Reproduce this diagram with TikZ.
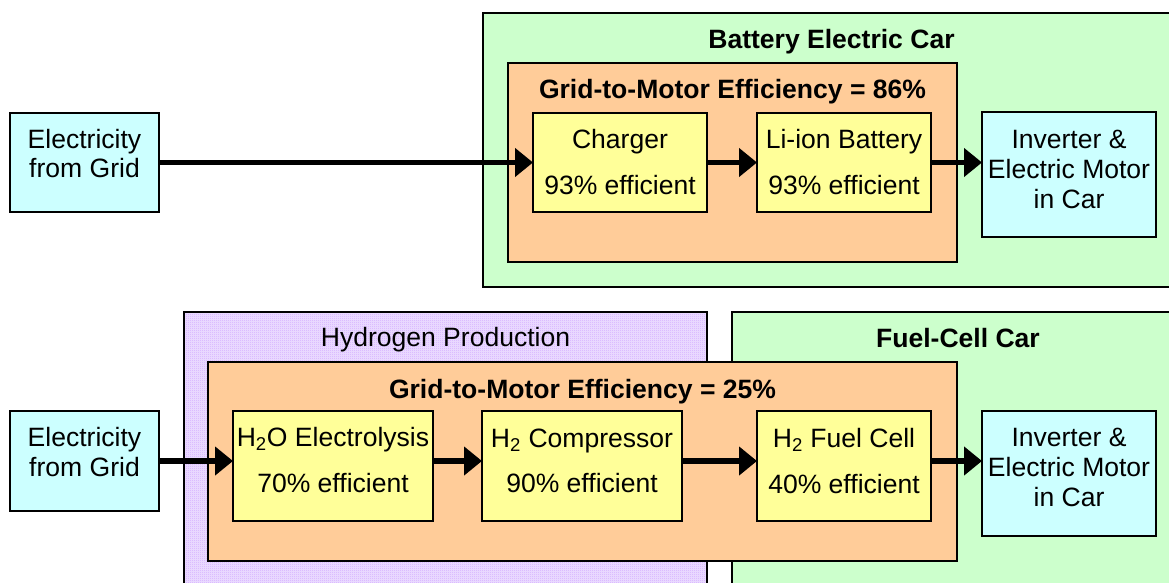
\documentclass[tikz,border=0pt]{standalone}
\usepackage{fontspec}
\setmainfont{Liberation Sans}
\usetikzlibrary{arrows.meta,patterns.meta,fit}
\definecolor{bgreen}{RGB}{204,255,204}
\definecolor{borange}{RGB}{255,204,153}
\definecolor{byellow}{RGB}{255,255,153}
\definecolor{bcyan}{RGB}{204,255,255}
\definecolor{bpurple}{RGB}{200,150,255}
\definecolor{bpurplebase}{RGB}{238,226,255}
\tikzdeclarepattern{name=finecheck, type=uncolored,
  bounding box={(0,0) and (1.5pt,1.5pt)}, tile size={(1.5pt,1.5pt)},
  code={\fill (0,0) rectangle (0.75pt,0.75pt); \fill (0.75pt,0.75pt) rectangle (1.5pt,1.5pt);}}
\begin{document}
\begin{tikzpicture}[x=0.75pt,y=-0.75pt,
  boxline/.style={draw=black, line width=1.2pt, inner sep=0pt, outer sep=0pt},
  cyanbox/.style={boxline, fill=bcyan},
  yellowbox/.style={boxline, fill=byellow},
  orangebox/.style={boxline, fill=borange},
  greenbox/.style={boxline, fill=bgreen},
  purplebox/.style={boxline, fill=bpurplebase},
  txt/.style={inner sep=0pt, anchor=base, font=\fontsize{19.9}{24}\selectfont},
  btxt/.style={txt, font=\fontsize{19.9}{24}\selectfont\bfseries},
  arr/.style={line width=4.4pt, -{Triangle[length=13.5pt,width=21pt]}}]
\useasboundingbox (0,0) rectangle (1169,582);
\begin{scope}
\clip (0,0) rectangle (1169,582);
% large background boxes
\node[greenbox, fit={(483,13) (1181,287)}] (greenA) {};
\node[orangebox, fit={(508,63) (957,262)}] (orangeA) {};
\node[purplebox, fit={(184,312) (707,600)}] (purple) {};
\fill[pattern=finecheck, pattern color=bpurple] (purple.north west) rectangle (purple.south east);
\draw[line width=1.2pt] (purple.north west) rectangle (purple.south east);
\node[greenbox, fit={(732,312) (1184,600)}] (greenB) {};
\node[orangebox, fit={(208,362) (957,561)}] (orangeB) {};
\end{scope}
% small boxes
\node[cyanbox, fit={(10,113) (159,212)}] (gridA) {};
\node[yellowbox, fit={(533,113) (707,212)}] (charger) {};
\node[yellowbox, fit={(757,113) (931,212)}] (battery) {};
\node[cyanbox, fit={(982,112) (1156,237)}] (invA) {};
\node[cyanbox, fit={(10,411) (159,511)}] (gridB) {};
\node[yellowbox, fit={(233,411) (433,521)}] (electro) {};
\node[yellowbox, fit={(482,411) (682,521)}] (compr) {};
\node[yellowbox, fit={(757,411) (931,521)}] (fuelc) {};
\node[cyanbox, fit={(982,411) (1156,536)}] (invB) {};
% arrows
\draw[arr] (gridA.east) -- (gridA.east -| charger.west);
\draw[arr] (charger.east) -- (charger.east -| battery.west);
\draw[arr] (battery.east) -- (battery.east -| invA.west);
\draw[arr] (gridB.east) -- (gridB.east -| electro.west);
\draw[arr] (gridB.east -| electro.east) -- (gridB.east -| compr.west);
\draw[arr] (gridB.east -| compr.east) -- (gridB.east -| fuelc.west);
\draw[arr] (gridB.east -| fuelc.east) -- (gridB.east -| invB.west);
% titles
\node[btxt] (tBEC) at (831.5,48.3) {Battery Electric Car};
\node[btxt] (tEffA) at (732.5,98.3) {Grid-to-Motor Efficiency = 86\%};
\node[txt] (tHP) at (445.5,346.7) {Hydrogen Production};
\node[btxt] (tFCC) at (958,347.7) {Fuel-Cell Car};
\node[btxt] (tEffB) at (582.5,398.3) {Grid-to-Motor Efficiency = 25\%};
% box texts (top)
\node[txt] (gA1) at (84.5,148.3) {Electricity};
\node[txt] (gA2) at (84.5,177.7) {from Grid};
\node[txt] (ch1) at (620,148.3) {Charger};
\node[txt] (ch2) at (620,194.3) {93\% efficient};
\node[txt] (ba1) at (844,148.3) {Li-ion Battery};
\node[txt] (ba2) at (844,194.3) {93\% efficient};
\node[txt] (iA1) at (1069,148.3) {Inverter \&};
\node[txt] (iA2) at (1069,178.3) {Electric Motor};
\node[txt] (iA3) at (1069,208.3) {in Car};
% box texts (bottom)
\node[txt] (gB1) at (84.5,446.7) {Electricity};
\node[txt] (gB2) at (84.5,476.7) {from Grid};
\node[txt] (el1) at (333,446.7) {H\textsubscript{2}O Electrolysis};
\node[txt] (el2) at (333,492.7) {70\% efficient};
\node[txt] (co1) at (582,447.3) {H\textsubscript{2} Compressor};
\node[txt] (co2) at (582,492.7) {90\% efficient};
\node[txt] (fc1) at (844,447.5) {H\textsubscript{2} Fuel Cell};
\node[txt] (fc2) at (844,493) {40\% efficient};
\node[txt] (iB1) at (1069,446.7) {Inverter \&};
\node[txt] (iB2) at (1069,476.7) {Electric Motor};
\node[txt] (iB3) at (1069,506.7) {in Car};
\end{tikzpicture}
\end{document}
